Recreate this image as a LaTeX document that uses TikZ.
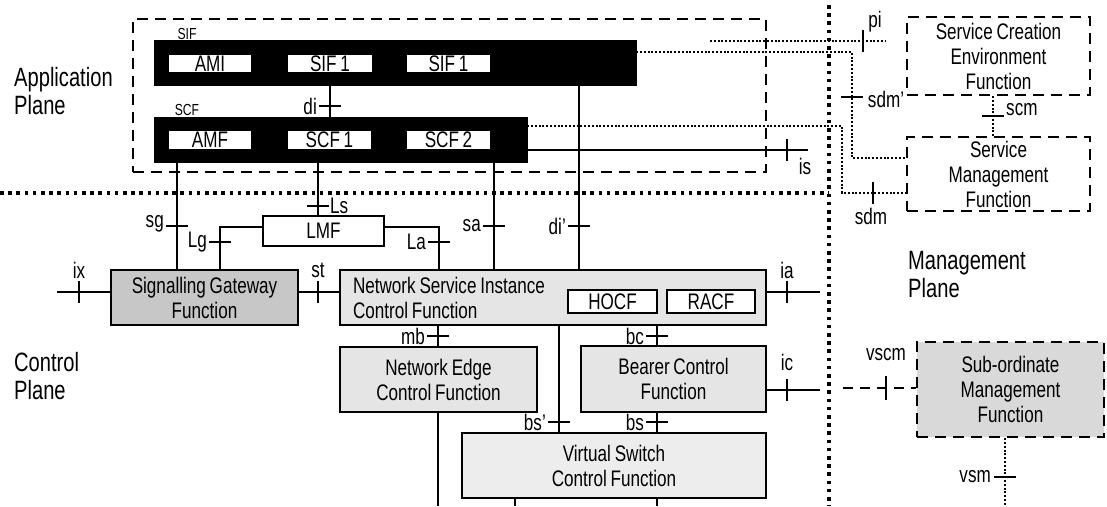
\documentclass[tikz,border=0pt]{standalone}
\usepackage{fontspec}
\setmainfont{Liberation Sans}[FakeStretch=0.76,WordSpace=0.8]
\usetikzlibrary{calc}
\newcommand\lblfont{\fontsize{22.5}{25}\selectfont}
\newcommand\planefont{\fontsize{26.5}{28}\selectfont}
\newcommand\innerfont{\fontsize{22.5}{25}\selectfont}
\newcommand\capfont{\fontsize{16}{17}\selectfont}
\begin{document}
\begin{tikzpicture}[x=1pt,y=-1pt,
  ln/.style={line width=2.4pt},
  tk/.style={line width=2.6pt},
  box/.style={draw, line width=2.4pt, inner sep=0pt, align=center, font=\lblfont},
  wbox/.style={draw, fill=white, line width=1.8pt, inner sep=0pt, font=\innerfont},
  bar/.style={fill=black, draw=black, inner sep=0pt},
  dbox/.style={draw, line width=2.4pt, dash pattern=on 11pt off 7pt, inner sep=0pt, align=center, font=\lblfont},
  sep/.style={line width=3.6pt, dash pattern=on 3.6pt off 4.6pt},
  fdot/.style={line width=2pt, dash pattern=on 2pt off 1.8pt},
  dsh/.style={line width=2.4pt, dash pattern=on 10pt off 7pt},
  lbl/.style={font=\lblfont, inner sep=1pt},
  plane/.style={font=\planefont, inner sep=0pt, align=left},
  captxt/.style={font=\capfont, inner sep=0pt},
]
\useasboundingbox (0,0) rectangle (1107,506);
% plane separators
\draw[sep] (0,193) -- (829,193);
\draw[sep] (829,5) -- (829,506);
% plane labels
\node[plane, anchor=west] (lapp) at (14,91) {Application\\Plane};
\node[plane, anchor=west] (lctl) at (14,376) {Control\\Plane};
\node[plane, anchor=west] (lmgt) at (908,275) {Management\\Plane};

% application plane
\node[dbox, minimum width=633pt, minimum height=153pt] (app) at (449.5,95.5) {};
\node[bar, minimum width=482pt, minimum height=45pt] (SIFbar) at (395,62.5) {};
\node[wbox, minimum width=84pt, minimum height=19pt] (AMI) at (210,63.5) {AMI};
\node[wbox, minimum width=86pt, minimum height=19pt] (SIFa) at (330,63.5) {SIF 1};
\node[wbox, minimum width=85pt, minimum height=19pt] (SIFb) at (448.5,63.5) {SIF 1};
\node[captxt] (cSIF) at (187,34) {SIF};
\node[bar, minimum width=373pt, minimum height=45pt] (SCFbar) at (340.5,139.5) {};
\node[wbox, minimum width=84pt, minimum height=19pt] (AMF) at (210,140) {AMF};
\node[wbox, minimum width=85pt, minimum height=19pt] (SCFa) at (329.5,140) {SCF 1};
\node[wbox, minimum width=85pt, minimum height=19pt] (SCFb) at (448.5,140) {SCF 2};
\node[captxt] (cSCF) at (187,110) {SCF};

% control plane
\node[box, fill=white, minimum width=121pt, minimum height=30pt] (LMF) at (323.5,231) {LMF};
\node[box, fill=black!22, minimum width=187pt, minimum height=55pt] (SGF) at (204.5,297.5) {Signalling Gateway\\Function};
\node[box, fill=black!10, minimum width=426pt, minimum height=55pt, align=flush left, text width=400pt] (NSICF) at (553,297.5) {Network Service Instance\\Control Function};
\node[wbox, minimum width=89pt, minimum height=23pt] (HOCF) at (612.5,301.5) {HOCF};
\node[wbox, minimum width=88pt, minimum height=23pt] (RACF) at (711,301.5) {RACF};
\node[box, fill=black!10, minimum width=197pt, minimum height=65pt] (NECF) at (438.5,379.5) {Network Edge\\Control Function};
\node[box, fill=black!10, minimum width=185pt, minimum height=66pt] (BCF) at (673.5,379) {Bearer Control\\Function};
\node[box, fill=black!7, minimum width=304pt, minimum height=65pt] (VSCF) at (614,465.5) {Virtual Switch\\Control Function};

% management plane
\node[dbox, minimum width=183pt, minimum height=78pt] (SCEF) at (998.5,56) {Service Creation\\Environment\\Function};
\node[dbox, minimum width=183pt, minimum height=74pt] (SMF) at (998.5,174) {Service\\Management\\Function};
\node[dbox, fill=black!15, minimum width=187pt, minimum height=95pt] (SoMF) at (1010.5,389.5) {Sub-ordinate\\Management\\Function};

% helper coordinates
\coordinate (bot) at (0,506);
\coordinate (xsg) at (177,0);
\coordinate (xls) at (318,0);
\coordinate (xlg) at (220,227);
\coordinate (xla) at (439,227);
\coordinate (xsa) at (494,0);
\coordinate (xdp) at (579,0);
\coordinate (xbc) at (657,0);
\coordinate (xbsp) at (559,0);
\coordinate (xv1) at (515,0);
\coordinate (xne) at (438,0);
\coordinate (ixE) at (57,292);
\coordinate (iaE) at (820,292);
\coordinate (icE) at (820,390);
\coordinate (isE) at (808,150);
\coordinate (sA) at (852,52);
\coordinate (sB) at (852,158);
\coordinate (cA) at (842,126);
\coordinate (cB) at (842,193);
\coordinate (pA) at (710,41);
\coordinate (pB) at (885,41);
\coordinate (xscm) at (993,0);
\coordinate (vA) at (843,388);
\coordinate (xvsm) at (1005,0);

% di
\draw[ln] (SIFa |- SIFbar.south) -- (SIFa |- SCFbar.north);
\draw[tk] (319,106) -- (341,106);
\node[lbl, anchor=east] at (318,106) {di};
% sg
\draw[ln] (xsg |- SCFbar.south) -- (xsg |- SGF.north);
\draw[tk] (166,226) -- (188,226);
\node[lbl, anchor=east] at (165,224) {sg};
% Ls
\draw[ln] (xls |- SCFbar.south) -- (xls |- LMF.north);
\draw[tk] (307,206) -- (329,206);
\node[lbl, anchor=west] at (329,206) {Ls};
% Lg
\draw[ln] (LMF.west |- xlg) -- (xlg) -- (xlg |- SGF.north);
\draw[tk] (209,242) -- (231,242);
\node[lbl, anchor=east] at (208,242) {Lg};
% La
\draw[ln] (LMF.east |- xla) -- (xla) -- (xla |- NSICF.north);
\draw[tk] (428,242) -- (450,242);
\node[lbl, anchor=east] at (427,242) {La};
% sa
\draw[ln] (xsa |- SCFbar.south) -- (xsa |- NSICF.north);
\draw[tk] (483,226) -- (505,226);
\node[lbl, anchor=east] at (482,226) {sa};
% di'
\draw[ln] (xdp |- SIFbar.south) -- (xdp |- NSICF.north);
\draw[tk] (568,226) -- (590,226);
\node[lbl, anchor=east] at (567,226) {di’};
% ix, st, ia, ic
\draw[ln] (ixE) -- (ixE -| SGF.west);
\draw[tk] (79,281) -- (79,303);
\node[lbl] at (79,270) {ix};
\draw[ln] (SGF.east |- ixE) -- (NSICF.west |- ixE);
\draw[tk] (318,281) -- (318,303);
\node[lbl] at (318,270) {st};
\draw[ln] (NSICF.east |- iaE) -- (iaE);
\draw[tk] (787,281) -- (787,303);
\node[lbl] at (787,270) {ia};
\draw[ln] (BCF.east |- icE) -- (icE);
\draw[tk] (787,379) -- (787,401);
\node[lbl] at (787,362) {ic};
% mb
\draw[ln] (xne |- NSICF.south) -- (xne |- NECF.north);
\draw[tk] (427,336) -- (449,336);
\node[lbl, anchor=east] at (426,336) {mb};
\draw[ln] (xne |- NECF.south) -- (xne |- bot);
% bc, bs, bs'
\draw[ln] (xbc |- NSICF.south) -- (xbc |- BCF.north);
\draw[tk] (646,336) -- (668,336);
\node[lbl, anchor=east] at (645,336) {bc};
\draw[ln] (xbc |- BCF.south) -- (xbc |- VSCF.north);
\draw[tk] (646,422) -- (668,422);
\node[lbl, anchor=east] at (645,422) {bs};
\draw[ln] (xbsp |- NSICF.south) -- (xbsp |- VSCF.north);
\draw[tk] (548,422) -- (570,422);
\node[lbl, anchor=east] at (547,422) {bs’};
\draw[ln] (xv1 |- VSCF.south) -- (xv1 |- bot);
\draw[ln] (xbc |- VSCF.south) -- (xbc |- bot);
% is
\draw[ln] (SCFbar.east |- isE) -- (isE);
\draw[tk] (787,139) -- (787,161);
\node[lbl] at (805,166) {is};
% sdm'
\draw[fdot] (SIFbar.east |- sA) -- (sA) -- (sB) -- (sB -| SMF.west);
\draw[tk] (841,97) -- (863,97);
\node[lbl] at (886,99) {sdm’};
% sdm
\draw[fdot] (SCFbar.east |- cA) -- (cA) -- (cB) -- (cB -| SMF.west);
\draw[tk] (873,182) -- (873,204);
\node[lbl] at (871,216) {sdm};
% pi
\draw[fdot] (pA) -- (pB);
\draw[tk] (863,30) -- (863,52);
\node[lbl] at (875,22) {pi};
% scm
\draw[fdot] (xscm |- SCEF.south) -- (xscm |- SMF.north);
\draw[tk] (982,116) -- (1004,116);
\node[lbl, anchor=west] at (1005,110) {scm};
% vscm
\draw[dsh] (vA) -- (vA -| SoMF.west);
\draw[tk] (886,376) -- (886,400);
\node[lbl] at (886,355) {vscm};
% vsm
\draw[fdot] (xvsm |- SoMF.south) -- (xvsm |- bot);
\draw[tk] (994,477) -- (1016,477);
\node[lbl, anchor=east] at (992,477) {vsm};
\end{tikzpicture}
\end{document}
